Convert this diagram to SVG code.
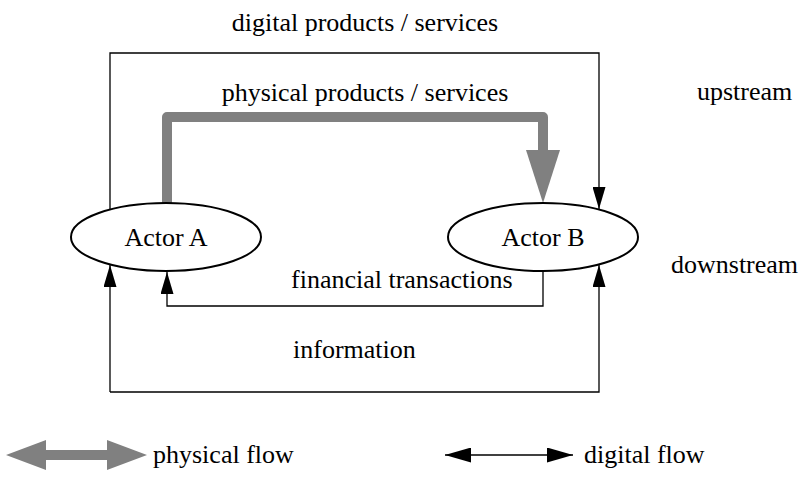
<svg xmlns="http://www.w3.org/2000/svg" width="811" height="481" viewBox="0 0 811 481">
<style>
text{font-size:26px;fill:#000}
.thin{fill:none;stroke:#000;stroke-width:1.3}
.thick{fill:none;stroke:#808080;stroke-width:10;stroke-linejoin:round}
.node{fill:#fff;stroke:#000;stroke-width:2}
</style>
<defs>
<marker id="ah" markerUnits="userSpaceOnUse" markerWidth="22" markerHeight="13" refX="22" refY="6.5" orient="auto" viewBox="0 0 22 13">
<path d="M0,0 L22,6.5 L0,13 z" fill="#000"/>
</marker>
<marker id="ahL" markerUnits="userSpaceOnUse" markerWidth="26" markerHeight="15" refX="26" refY="7.5" orient="auto-start-reverse" viewBox="0 0 26 15">
<path d="M0,0 L26,7.5 L0,15 z" fill="#000"/>
</marker>
</defs>
<g id="connectors">
<path class="thin" d="M110,210 V53 H599 V209" marker-end="url(#ah)"/>
<path class="thick" d="M167,204 V117 H543 V152"/>
<polygon points="526,150 560,150 543,203" fill="#808080"/>
<path class="thin" d="M543,271 V306 H167 V272" marker-end="url(#ah)"/>
<path class="thin" d="M110,392 H599 V265" marker-end="url(#ah)"/>
<path class="thin" d="M110,392 V265" marker-end="url(#ah)"/>
</g>
<g font-family="'Liberation Serif', 'Times New Roman', 'DejaVu Serif', serif">
<g id="actorA">
<ellipse class="node" cx="166" cy="237" rx="95" ry="34"/>
<text x="166" y="246" text-anchor="middle">Actor A</text>
</g>
<g id="actorB">
<ellipse class="node" cx="543" cy="237" rx="95" ry="34"/>
<text x="543" y="246" text-anchor="middle">Actor B</text>
</g>
<g id="labels">
<text x="365" y="31" text-anchor="middle">digital products / services</text>
<text x="365" y="101" text-anchor="middle">physical products / services</text>
<text x="697" y="100">upstream</text>
<text x="671" y="273">downstream</text>
<text x="291" y="288">financial transactions</text>
<text x="293" y="358">information</text>
</g>
<g id="legend">
<polygon points="6,455 46,440 46,450 107,450 107,440 147,455 107,470 107,460 46,460 46,470" fill="#808080"/>
<text x="153" y="463">physical flow</text>
<line x1="445" y1="455" x2="573" y2="455" stroke="#000" stroke-width="1.5" marker-start="url(#ahL)" marker-end="url(#ahL)"/>
<text x="584" y="463">digital flow</text>
</g>
</g>
</svg>
